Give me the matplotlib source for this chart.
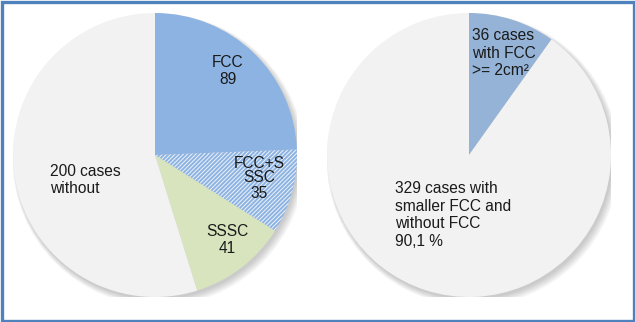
import numpy as np
import matplotlib
matplotlib.use("Agg")
from matplotlib import pyplot as plt
from matplotlib.patches import Circle, Rectangle

plt.rcParams['font.family'] = ['Liberation Sans', 'DejaVu Sans']
plt.rcParams['hatch.linewidth'] = 0.7

# left pie: all cases split by finding
LEFT_LABELS = ['FCC\n89', 'FCC+S\nSSC\n35', 'SSSC\n41', '200 cases\nwithout']
LEFT_VALUES = [89, 35, 41, 200]
LEFT_COLORS = ['#8DB3E2', '#8DB3E2', '#D7E4BD', '#F2F2F2']

# right pie: large FCC vs the rest
RIGHT_LABELS = ['36 cases\nwith FCC\n>= 2cm²',
                '329 cases with\nsmaller FCC and\nwithout FCC\n90,1 %']
RIGHT_VALUES = [36, 329]
RIGHT_COLORS = ['#95B3D7', '#F2F2F2']

W, H = 635, 322
R = 142


def pie_axes(fig, cx, cy):
    """ axes whose data radius 1 maps to R pixels around (cx, cy) """
    ax = fig.add_axes([(cx - R) / W, (H - cy - R) / H, 2 * R / W, 2 * R / H])
    ax.axis('off')
    return ax


def fix_limits(ax):
    # pie() widens the limits, pull them back to the unit circle
    ax.set_xlim(-1, 1)
    ax.set_ylim(-1, 1)
    ax.set_aspect('equal')


def soft_shadow(ax):
    for i in range(6):
        ax.add_patch(Circle((0.012 + i * 0.003, -0.018 - i * 0.003), 1.0 + i * 0.006,
                            color='#000000', alpha=0.035, lw=0, zorder=0))


def place(ax, text, px, py, cx, cy, ha='center', ls=1.1):
    ax.text((px - cx) / R, (cy - py) / R, text, ha=ha, va='center',
            fontsize=11.2, color='#1a1a1a', linespacing=ls, zorder=5)


fig = plt.figure(figsize=(W / 100, H / 100), dpi=100)

# left pie
cx, cy = 155, 155
ax = pie_axes(fig, cx, cy)
soft_shadow(ax)
wedges, _ = ax.pie(LEFT_VALUES, colors=LEFT_COLORS, startangle=90,
                   counterclock=False, radius=1.0,
                   wedgeprops=dict(linewidth=0))
wedges[1].set_hatch('////////')
wedges[1].set_edgecolor('#EEF3FA')
wedges[1].set_linewidth(0)
fix_limits(ax)
place(ax, LEFT_LABELS[0], 228, 71, cx, cy)
place(ax, LEFT_LABELS[1], 259, 178, cx, cy, ls=1.0)
place(ax, LEFT_LABELS[2], 227, 240, cx, cy)
place(ax, LEFT_LABELS[3], 50, 180, cx, cy, ha='left')

# right pie
cx, cy = 469, 155
ax = pie_axes(fig, cx, cy)
soft_shadow(ax)
ax.pie(RIGHT_VALUES, colors=RIGHT_COLORS, startangle=90,
       counterclock=False, radius=1.0, wedgeprops=dict(linewidth=0))
fix_limits(ax)
place(ax, RIGHT_LABELS[0], 472, 53, cx, cy, ha='left', ls=1.2)
place(ax, RIGHT_LABELS[1], 395, 215, cx, cy, ha='left', ls=1.2)

# frame round the whole figure
fig.patches.append(Rectangle((1.5 / W, 1.5 / H), 1 - 3 / W, 1 - 3 / H,
                             transform=fig.transFigure, fill=False,
                             edgecolor='#4F81BD', linewidth=2.4))

fig.savefig('out.png', dpi=100)
